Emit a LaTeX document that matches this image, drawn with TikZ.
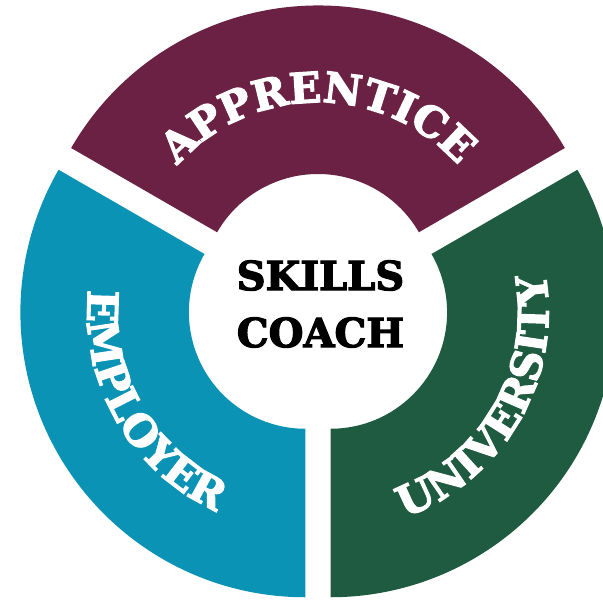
\documentclass[tikz,border=0pt]{standalone}
\usepackage{fontspec}
\newfontfamily\slabfont{DejaVu Serif Bold}[FakeBold=3]
\usetikzlibrary{decorations.text}

\definecolor{apprentice}{HTML}{6A2143}
\definecolor{employer}{HTML}{0A93B4}
\definecolor{university}{HTML}{1E5B40}
\newcommand{\ringlabel}{\slabfont\fontsize{42}{42}\selectfont}

\begin{document}
\begin{tikzpicture}[x=1pt, y=1pt]
	\tikzset{ringtext/.style={decorate, decoration={text along path, text align=center, text color=white, text={|\ringlabel|#1}}}}

	\useasboundingbox (-318,-301) rectangle (285,305);
	\fill[white] (-318,-301) rectangle (285,305);

	% the three segments, each pushed out from the middle
	\fill[apprentice, shift={(0,14.5)}] (30:116.5) arc[start angle=30, end angle=150, radius=116.5] -- (150:285) arc[start angle=150, end angle=30, radius=285] -- cycle;
	\fill[employer, shift={(-12.6,-7.25)}] (150:116.5) arc[start angle=150, end angle=270, radius=116.5] -- (270:285) arc[start angle=270, end angle=150, radius=285] -- cycle;
	\fill[university, shift={(12.6,-7.25)}] (270:116.5) arc[start angle=270, end angle=390, radius=116.5] -- (390:285) arc[start angle=390, end angle=270, radius=285] -- cycle;

	% labels round the ring
	\path[ringtext=APPRENTICE, shift={(0,14.5)}] (140:188) arc[start angle=140, end angle=40, radius=188];
	\path[ringtext=EMPLOYER, shift={(-12.6,-7.25)}] (160:218) arc[start angle=160, end angle=260, radius=218];
	\path[ringtext=UNIVERSITY, shift={(12.6,-7.25)}] (280:218) arc[start angle=280, end angle=380, radius=218];

	\node[font=\slabfont\fontsize{40}{57}\selectfont, align=center] (coach) at (2.5,1) {SKILLS\\COACH};
\end{tikzpicture}
\end{document}
